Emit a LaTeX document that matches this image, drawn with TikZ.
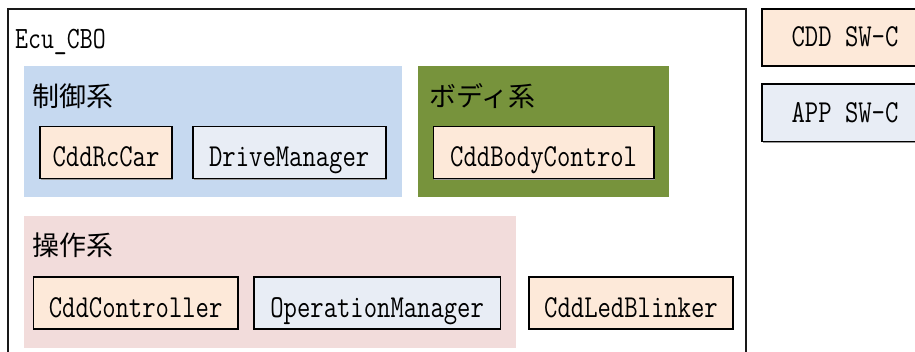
\documentclass[tikz,border=0pt]{standalone}
\usepackage{fontspec}
\setmonofont{Latin Modern Mono}[FakeStretch=0.81]
\newfontfamily\jp{Noto Sans CJK JP}
\usetikzlibrary{shadows}
\definecolor{grpblue}{HTML}{C6D9F0}
\definecolor{grpgreen}{HTML}{77933C}
\definecolor{grppink}{HTML}{F2DCDB}
\definecolor{cddfill}{HTML}{FDE9D9}
\definecolor{appfill}{HTML}{E8EDF5}
\begin{document}
\begin{tikzpicture}[x=1pt,y=-1pt,
  comp/.style={draw=black, line width=1.6pt, fill=#1, rectangle,
    font=\ttfamily\fontsize{32}{32}\selectfont, text height=31pt, text depth=3pt, inner sep=0pt,
    general shadow={fill=black!40, shadow xshift=1pt, shadow yshift=-1pt}},
  legendbox/.style={comp=#1, text height=20pt, text depth=1.6pt},
  grp/.style={fill=#1, draw=none, rectangle, inner sep=0pt},
  grplabel/.style={font=\jp\fontsize{27}{27}\selectfont, inner sep=0pt, anchor=west},
  outer/.style={draw=black!90, line width=1.8pt, rectangle, inner sep=0pt}]
\clip (0,0) rectangle (915,352);
\fill[white] (0,0) rectangle (915,352);
% outer ECU box
\node[outer, minimum width=737.7pt, minimum height=391pt] (ecu) at (376.85,204.5) {};
\node[anchor=base west, inner sep=0pt, font=\ttfamily\fontsize{31}{31}\selectfont] (ecul) at (15,48.5) {Ecu\_CBO};
% groups
\node[grp=grpblue, minimum width=378pt, minimum height=131pt] (ctl) at (213,131.5) {};
\node[grp=grpgreen, minimum width=250.7pt, minimum height=131pt] (body) at (543.35,131.5) {};
\node[grp=grppink, minimum width=491.7pt, minimum height=131.7pt] (ops) at (269.85,281.85) {};
\node[grplabel] (ctll) at (32,96) {制御系};
\node[grplabel] (bodyl) at (429.5,96) {ボディ系};
\node[grplabel] (opsl) at (32,245) {操作系};
% components
\node[comp=cddfill, minimum width=132pt, minimum height=52pt] (rc) at (106,152.7) {CddRcCar};
\node[comp=appfill, minimum width=193pt, minimum height=52pt] (drive) at (289.2,152.7) {DriveManager};
\node[comp=cddfill, minimum width=220.7pt, minimum height=52pt] (bc) at (543.65,152.7) {CddBodyControl};
\node[comp=cddfill, minimum width=204.7pt, minimum height=52pt] (ctrl) at (135.65,303.3) {CddController};
\node[comp=appfill, minimum width=246.3pt, minimum height=52pt] (opm) at (377.15,303.3) {OperationManager};
\node[comp=cddfill, minimum width=204pt, minimum height=52pt] (led) at (631,303.3) {CddLedBlinker};
% legend
\node[legendbox=cddfill, minimum width=166pt, minimum height=57pt] (lcdd) at (845,37.5) {CDD SW-C};
\node[legendbox=appfill, minimum width=166pt, minimum height=57.7pt] (lapp) at (845,112.85) {APP SW-C};
\end{tikzpicture}
\end{document}
